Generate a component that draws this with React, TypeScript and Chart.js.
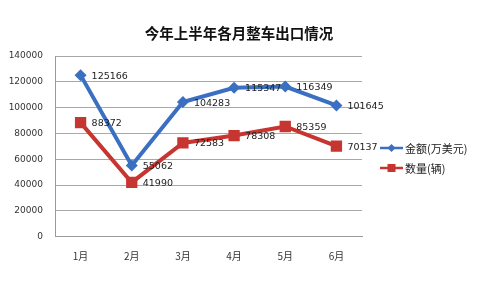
import React, { useEffect, useRef } from "react";
import { Chart, registerables } from "chart.js";

Chart.register(...registerables);

const TITLE = "今年上半年各月整车出口情况";
const months = ["1月", "2月", "3月", "4月", "5月", "6月"];
const amountName = "金额(万美元)";
const amountValues = [125166, 55062, 104283, 115347, 116349, 101645];
const countName = "数量(辆)";
const countValues = [88372, 41990, 72583, 78308, 85359, 70137];

const BLUE = "#3b6fc1";
const RED = "#c73530";

const overlay = {
  id: "overlay",
  afterDatasetsDraw(chart: any) {
    const ctx = chart.ctx;
    ctx.save();
    // data labels
    ctx.font = "9.5px 'DejaVu Sans'";
    ctx.fillStyle = "#222";
    ctx.textAlign = "left";
    ctx.textBaseline = "middle";
    chart.data.datasets.forEach((ds: any, di: number) => {
      const meta = chart.getDatasetMeta(di);
      meta.data.forEach((pt: any, i: number) => {
        ctx.fillText(String(ds.data[i]), pt.x + 11, pt.y + 1);
      });
    });
    // title
    ctx.font = "bold 14.5px 'Noto Sans CJK SC'";
    ctx.fillStyle = "#111";
    ctx.textAlign = "center";
    ctx.fillText(TITLE, 239, 33);
    // legend
    const items = [
      { name: amountName, color: BLUE, style: "diamond", y: 148 },
      { name: countName, color: RED, style: "square", y: 168 },
    ];
    items.forEach((it) => {
      ctx.strokeStyle = it.color;
      ctx.lineWidth = 2.5;
      ctx.beginPath();
      ctx.moveTo(380, it.y);
      ctx.lineTo(403, it.y);
      ctx.stroke();
      ctx.fillStyle = it.color;
      const cx = 391.5;
      if (it.style === "diamond") {
        ctx.beginPath();
        ctx.moveTo(cx, it.y - 4);
        ctx.lineTo(cx + 4, it.y);
        ctx.lineTo(cx, it.y + 4);
        ctx.lineTo(cx - 4, it.y);
        ctx.closePath();
        ctx.fill();
      } else {
        ctx.fillRect(cx - 4, it.y - 4, 8, 8);
      }
      ctx.fillStyle = "#222";
      ctx.textAlign = "left";
      ctx.font = "11px 'Noto Sans CJK SC'";
      ctx.fillText(it.name, 405, it.y + 1);
    });
    ctx.restore();
  },
};

export default function App() {
  const ref = useRef<HTMLCanvasElement>(null);
  useEffect(() => {
    if (!ref.current) return;
    const chart = new Chart(ref.current, {
      type: "line",
      data: {
        labels: months,
        datasets: [
          {
            label: amountName,
            data: amountValues,
            borderColor: BLUE,
            backgroundColor: BLUE,
            borderWidth: 4,
            pointBorderWidth: 0,
            pointStyle: "rectRot",
            pointRadius: 6,
            pointHoverRadius: 6,
            tension: 0,
          },
          {
            label: countName,
            data: countValues,
            borderColor: RED,
            backgroundColor: RED,
            borderWidth: 4,
            pointBorderWidth: 0,
            pointStyle: "rect",
            pointRadius: 8,
            pointHoverRadius: 8,
            tension: 0,
          },
        ],
      },
      options: {
        animation: false,
        responsive: false,
        maintainAspectRatio: false,
        layout: { padding: { top: 56, right: 118, left: 0, bottom: 0 } },
        plugins: {
          legend: { display: false },
          title: { display: false },
          tooltip: { enabled: false },
        },
        scales: {
          x: {
            offset: true,
            grid: { display: false, drawTicks: false },
            border: { display: true, color: "#9a9a9a" },
            ticks: {
              padding: 14,
              color: "#333",
              font: { family: "'Noto Sans CJK SC'", size: 10 },
            },
            afterFit(scale: any) {
              scale.height = 51.4;
            },
          },
          y: {
            min: 0,
            max: 140000,
            grid: { color: "#a8a8a8", lineWidth: 1, drawTicks: false },
            border: { display: true, color: "#9a9a9a" },
            ticks: {
              stepSize: 20000,
              padding: 12,
              color: "#333",
              font: { family: "'DejaVu Sans'", size: 9 },
              callback: (v: any) => String(v),
            },
            afterFit(scale: any) {
              scale.width = 55;
            },
          },
        },
      },
      plugins: [overlay],
    });
    return () => chart.destroy();
  }, []);
  return (
    <div style={{ position: "absolute", left: 0, top: 0, width: 480, height: 288, background: "#fff" }}>
      <canvas ref={ref} width={480} height={288} style={{ width: 480, height: 288 }} />
    </div>
  );
}
